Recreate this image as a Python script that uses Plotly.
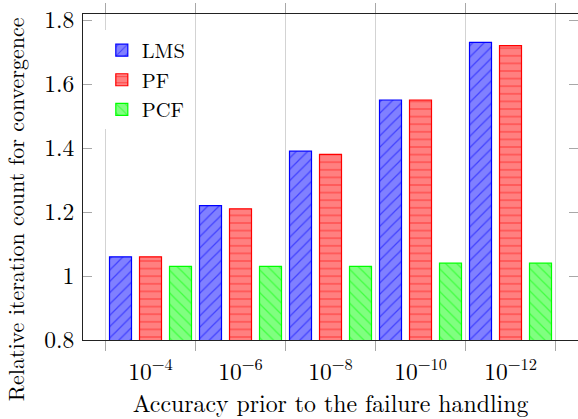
import plotly.graph_objects as go

categories = ["10<sup>−4</sup>", "10<sup>−6</sup>", "10<sup>−8</sup>", "10<sup>−10</sup>", "10<sup>−12</sup>"]
lms = [1.06, 1.22, 1.39, 1.55, 1.73]
pf = [1.06, 1.21, 1.38, 1.55, 1.72]
pcf = [1.03, 1.03, 1.03, 1.04, 1.04]
y_ticks = [0.8, 1.0, 1.2, 1.4, 1.6, 1.8]
y_ticktext = ["0.8", "1", "1.2", "1.4", "1.6", "1.8"]

FONT = "Latin Modern Roman"

series = [
    ("LMS", lms, "rgb(0,0,255)", "rgb(128,128,255)", "/", 8),
    ("PF", pf, "rgb(255,0,0)", "rgb(255,128,128)", "-", 7.6),
    ("PCF", pcf, "rgb(0,255,0)", "rgb(128,255,128)", "\\", 8),
]

fig = go.Figure()
for name, vals, strong, light, shape, size in series:
    fig.add_trace(go.Bar(
        name=name, x=categories, y=vals,
        marker=dict(
            color=light,
            line=dict(color=strong, width=1.2),
            pattern=dict(shape=shape, fgcolor=strong, bgcolor=light,
                         size=size, solidity=0.15, fillmode="overlay"),
        ),
    ))

fig.add_annotation(
    text="Relative iteration count for convergence",
    xref="paper", yref="paper", x=-0.137, y=0.402,
    xanchor="center", yanchor="middle", textangle=-90, showarrow=False,
    font=dict(family=FONT, size=22, color="black"),
)

fig.update_layout(
    template="none",
    width=578, height=419,
    margin=dict(l=83, r=0, t=14, b=79),
    barmode="group", bargap=0.0, bargroupgap=0.267,
    plot_bgcolor="white", paper_bgcolor="white",
    font=dict(family=FONT, size=22, color="black"),
    showlegend=True,
    legend=dict(x=0.038, y=0.95, xanchor="left", yanchor="top",
                bgcolor="white", borderwidth=0, entrywidth=62,
                font=dict(family=FONT, size=20.5)),
    xaxis=dict(
        type="category", range=[-0.75, 4.75],
        tickson="boundaries", showgrid=True, gridcolor="#d3d3d3", gridwidth=1,
        ticks="outside", ticklen=10, tickcolor="#a8a8a8", tickwidth=1,
        showline=True, linecolor="#222", linewidth=1, mirror="ticks",
        tickfont=dict(family=FONT, size=23.5),
        ticklabelstandoff=11,
        title=dict(text="Accuracy prior to the failure handling",
                   font=dict(family=FONT, size=23.8), standoff=6),
    ),
    yaxis=dict(
        range=[0.8, 0.8 + 326 / 320], tickvals=y_ticks, ticktext=y_ticktext,
        showgrid=False, zeroline=False,
        ticks="inside", ticklen=9, tickcolor="#a8a8a8", tickwidth=1,
        showline=True, linecolor="#222", linewidth=1, mirror="ticks",
        tickfont=dict(family=FONT, size=23.5),
        ticklabelstandoff=3,
    ),
)

fig.write_html("out.html")
